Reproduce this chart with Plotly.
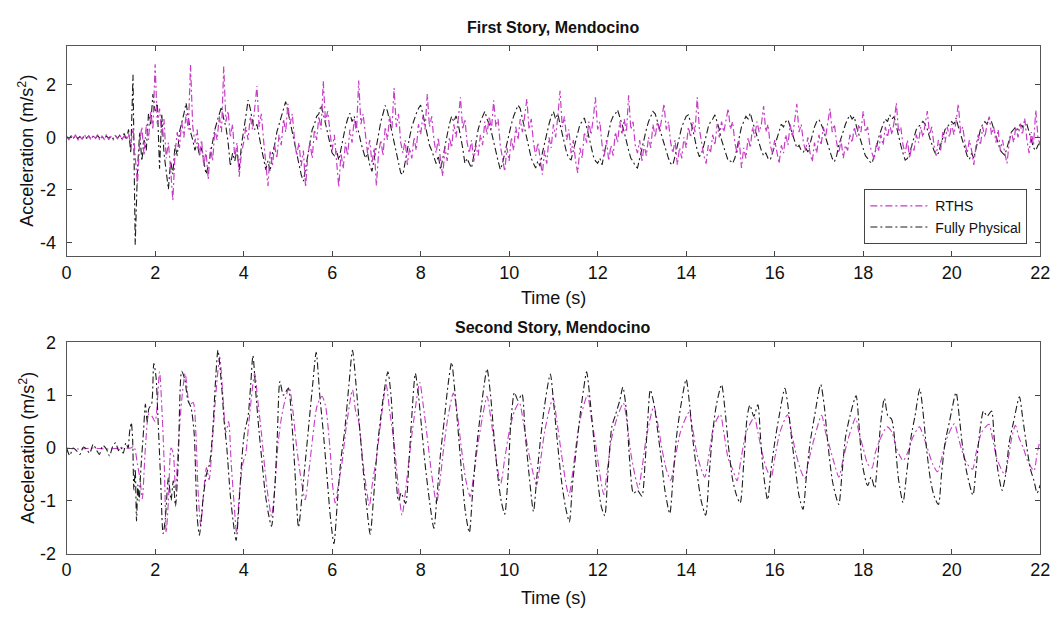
import numpy as np
import plotly.graph_objects as go

# ---------------- First story (0.05 s samples, one row per second) ----------------
rths_first = [
    [0.05,-0.10,0.08,-0.06,0.10,-0.12,0.04,-0.08,0.12,-0.05,0.06,-0.10,0.09,-0.04,0.10,-0.12,0.05,-0.07,0.11,-0.09],
    [0.03,-0.11,0.08,-0.05,0.10,-0.10,0.06,-0.08,0.15,-0.30,0.35,-0.60,-1.80,-0.20,0.40,-0.70,0.50,-0.10,1.00,0.30],
    [2.79,0.50,1.10,0.10,0.70,-0.80,-0.20,-1.20,-2.40,-0.60,0.20,-0.40,0.60,0.00,0.90,0.30,2.76,0.40,-0.20,0.30],
    [-0.70,-0.10,-1.10,-0.50,-1.60,-0.40,-0.90,0.30,-0.10,0.80,0.20,2.70,0.60,1.00,0.00,0.50,-0.80,-0.20,-1.50,-0.60],
    [-0.20,0.40,-0.10,0.80,0.30,1.10,1.96,0.40,0.90,-0.10,-0.90,-1.85,-0.50,-1.10,-0.30,-0.80,0.10,-0.30,0.70,0.20],
    [1.28,0.50,0.90,-0.10,-0.70,-0.20,-1.10,-0.50,-1.90,-0.70,-0.20,-0.80,0.30,-0.10,0.80,0.30,2.15,0.60,1.00,0.10],
    [-0.50,0.10,-1.00,-1.90,-0.60,-1.20,-0.20,-0.70,0.30,-0.20,0.70,0.20,2.17,0.50,0.90,0.00,-0.60,-0.10,-1.00,-0.40],
    [-1.85,-0.60,-0.10,-0.70,0.40,-0.10,0.80,0.30,1.88,0.40,0.90,-0.20,-0.60,-0.10,-1.05,-0.40,-0.80,0.00,-0.50,0.50],
    [0.10,0.80,0.30,1.65,0.40,0.80,-0.10,-0.60,0.00,-0.90,-1.48,-0.40,-0.90,0.00,-0.40,0.50,0.00,0.70,1.53,0.30],
    [0.70,-0.20,-0.60,-0.10,-0.93,-0.30,-0.70,0.10,-0.30,0.60,0.10,0.80,0.30,1.41,0.40,0.70,-0.30,-0.80,-1.30,-0.40],
    [-0.90,0.00,-0.50,0.40,-0.10,0.70,0.20,0.80,1.47,0.30,0.70,-0.20,-0.70,-0.20,-0.90,-1.42,-0.50,-1.00,0.00,-0.40],
    [0.50,0.00,0.80,1.78,0.40,0.80,-0.10,0.30,-0.60,-0.10,-0.90,-1.36,-0.40,-0.80,0.20,-0.20,0.60,0.10,0.70,1.53],
    [0.30,0.60,-0.30,-0.70,-0.10,-0.90,-0.30,-0.70,0.20,-0.20,0.60,0.10,0.70,0.20,1.60,0.30,0.60,-0.30,-0.60,-0.10],
    [-0.93,-0.30,-0.70,0.00,-0.40,0.50,0.00,0.60,0.20,0.70,1.28,0.30,0.60,-0.20,-0.60,-0.10,-1.05,-0.40,-0.80,0.00],
    [-0.40,0.40,0.00,0.60,0.20,1.53,0.30,-0.20,-0.70,-1.00,-0.30,-0.60,0.10,-0.30,0.50,0.00,0.60,0.20,0.70,1.10],
    [0.30,0.60,-0.20,-0.60,-0.10,-1.17,-0.40,-0.80,0.00,-0.40,0.40,0.00,0.60,0.20,0.50,1.19,0.20,0.50,-0.30,-0.60],
    [-0.10,-0.60,-1.00,-0.30,-0.60,0.10,-0.30,0.50,0.00,0.60,1.28,0.20,0.50,-0.20,-0.50,0.00,-0.60,-0.93,-0.20,-0.60],
    [0.10,-0.30,0.40,0.00,0.50,1.10,0.20,0.50,-0.20,-0.60,-0.10,-0.80,-0.30,-0.50,0.10,-0.20,0.40,0.00,0.50,0.20],
    [1.00,0.20,0.40,-0.30,-0.60,-0.85,-0.20,-0.50,0.10,-0.30,0.40,0.00,0.50,0.10,0.60,1.31,0.20,0.40,-0.30,-0.60],
    [-0.10,-0.80,-0.30,-0.50,0.10,-0.20,0.40,0.00,0.50,1.00,0.10,0.40,-0.30,-0.70,-0.10,-0.50,0.20,-0.20,0.40,0.00],
    [0.50,0.10,0.60,1.28,0.20,0.40,-0.20,-0.60,-0.10,-0.50,-1.05,-0.30,0.10,-0.30,0.40,0.00,0.50,0.79,0.10,0.40],
    [-0.20,0.30,-0.50,-0.10,-0.60,-0.99,-0.20,0.20,-0.20,0.40,0.00,0.50,0.10,0.73,-0.10,-0.60,0.20,-0.30,1.04,0.00],
    [-0.30],
]

fully_first = [
    [0.02,-0.06,0.05,-0.04,0.07,-0.05,0.03,-0.07,0.06,-0.03,0.05,-0.06,0.04,-0.05,0.07,-0.04,0.03,-0.06,0.05,-0.03],
    [0.04,-0.05,0.06,-0.04,0.08,-0.05,0.15,-0.10,0.30,-0.60,2.39,-4.10,-1.30,0.20,-0.90,-0.10,-0.50,0.90,0.50,1.65],
    [1.00,1.30,-1.20,0.90,-0.60,-1.30,-1.98,-0.90,-1.40,-0.30,-0.70,0.20,0.50,0.90,1.31,0.80,0.20,-0.10,-0.50,-0.20],
    [-0.70,-0.40,-1.00,-1.40,-1.10,-0.60,-0.20,0.30,0.60,0.90,1.17,0.70,0.40,-0.20,-1.10,-0.60,-0.90,-0.50,-1.24,-0.30],
    [0.20,0.80,1.42,1.10,0.60,0.30,0.50,0.00,-0.40,-0.80,-1.23,-0.90,-1.30,-0.60,-0.30,0.20,0.50,0.80,1.00,1.36],
    [1.00,0.60,0.20,-0.30,-0.70,-1.00,-1.42,-1.67,-1.20,-0.60,-0.20,0.30,0.50,0.80,0.90,1.23,0.90,0.50,0.10,-0.30],
    [-0.60,-0.70,-0.50,-0.87,-0.40,0.00,0.40,0.70,0.92,0.60,0.80,0.40,0.20,-0.20,-0.50,-0.80,-0.60,-1.05,-1.30,-0.80],
    [-0.30,0.20,0.60,0.90,1.22,1.00,0.60,0.20,-0.20,-0.60,-1.00,-1.36,-1.42,-0.90,-0.40,0.00,0.40,0.70,0.90,1.10],
    [1.23,0.90,0.50,0.10,-0.30,-0.50,-0.80,-1.00,-0.70,-1.23,-0.80,-0.30,0.10,0.50,0.80,0.60,0.82,0.50,0.10,-0.40],
    [-0.99,-0.80,-1.00,-1.17,-0.70,-0.20,0.30,0.60,0.80,0.99,0.70,0.50,0.20,-0.20,-0.60,-0.90,-1.23,-1.00,-0.60,-0.20],
    [0.20,0.50,0.80,1.00,1.23,1.10,0.70,0.30,0.00,-0.40,-0.80,-1.00,-1.17,-0.90,-1.10,-0.60,-0.20,0.20,0.50,0.80],
    [0.99,0.70,0.90,0.50,0.10,-0.30,-0.60,-0.80,-0.86,-0.50,-0.20,0.20,0.50,0.60,0.74,0.40,0.00,-0.40,-0.70,-0.90],
    [-0.99,-0.80,-1.05,-0.60,-0.20,0.30,0.60,0.80,0.90,1.05,0.80,0.50,0.20,-0.20,-0.50,-0.80,-0.90,-1.10,-1.17,-0.80],
    [-0.40,0.00,0.30,0.60,0.80,0.99,0.90,0.60,0.30,0.00,-0.30,-0.60,-0.80,-1.00,-1.05,-0.70,-0.30,0.10,0.40,0.60],
    [0.80,0.86,0.60,0.30,-0.10,-0.50,-0.74,-0.60,-0.30,0.10,0.40,0.60,0.70,0.86,0.60,0.30,-0.10,-0.40,-0.70,-0.90],
    [-0.90,-0.99,-0.80,-0.40,0.00,0.40,0.60,0.80,0.70,0.93,0.60,0.30,0.00,-0.30,-0.50,-0.70,-0.60,-0.80,-0.86,-0.60],
    [-0.30,0.00,0.30,0.50,0.40,0.60,0.68,0.40,0.10,-0.20,-0.40,-0.30,-0.50,-0.56,-0.40,-0.56,-0.20,0.10,0.40,0.60],
    [0.68,0.50,0.30,0.00,-0.30,-0.60,-0.80,-0.93,-0.70,-0.30,0.00,0.30,0.50,0.70,0.86,0.70,0.79,0.40,0.10,-0.20],
    [-0.50,-0.70,-0.80,-0.93,-0.99,-0.70,-0.40,0.00,0.30,0.50,0.70,0.60,0.86,0.70,0.79,0.40,0.10,-0.30,-0.60,-0.87],
    [-0.80,-0.60,-0.30,0.00,0.30,0.40,0.50,0.61,0.50,0.30,0.00,-0.30,-0.50,-0.68,-0.60,-0.30,0.00,0.30,0.40,0.50],
    [0.60,0.50,0.74,0.40,0.10,-0.20,-0.50,-0.70,-0.84,-0.60,-0.80,-0.40,0.00,0.30,0.50,0.60,0.50,0.74,0.60,0.30],
    [0.00,-0.30,-0.50,-0.60,-0.68,-0.40,-0.10,0.20,0.30,0.40,0.30,0.50,0.40,0.62,0.50,0.20,-0.10,-0.40,-0.50,-0.30],
    [-0.20],
]

# ---------------- Second story (time, acceleration) read at extremes ----------------
fully_second = [
    (0,0),(0.07,-0.14),(0.15,0.0),(0.22,-0.05),(0.3,-0.12),(0.38,0.02),(0.45,-0.02),(0.52,-0.1),
    (0.6,0.07),(0.67,-0.03),(0.74,-0.12),(0.82,0.05),(0.9,-0.02),(0.97,-0.15),(1.04,0.03),(1.11,0.1),
    (1.17,-0.05),(1.22,0.02),(1.28,-0.1),(1.34,0.1),(1.39,0.0),(1.42,0.28),(1.46,0.48),(1.49,0.2),
    (1.52,-0.8),(1.55,-0.4),(1.58,-1.38),(1.61,-0.7),(1.64,-1.0),(1.67,-0.5),(1.74,0.35),(1.78,0.83),
    (1.82,0.5),(1.86,0.75),(1.92,0.83),(1.97,1.6),(2.02,1.35),(2.06,0.65),(2.12,-0.5),(2.18,-1.62),
    (2.23,-1.35),(2.3,-0.56),(2.36,-0.99),(2.41,-0.62),(2.46,-1.1),(2.52,-0.3),(2.6,1.45),(2.67,1.3),
    (2.74,0.9),(2.81,0.77),(2.88,0.3),(2.95,-1.3),(3.0,-1.65),(3.08,-0.99),(3.16,-0.5),(3.23,-0.3),
    (3.3,0.3),(3.36,1.2),(3.42,1.85),(3.5,1.2),(3.56,0.5),(3.62,0.0),(3.7,-0.9),(3.78,-1.5),
    (3.83,-1.75),(3.9,-1.0),(3.96,-0.2),(4.02,0.3),(4.1,0.6),(4.16,1.2),(4.21,1.75),(4.28,1.0),
    (4.35,0.3),(4.42,-0.3),(4.48,-0.8),(4.55,-1.2),(4.63,-1.48),(4.7,-0.8),(4.76,0.2),(4.82,1.26),
    (4.9,1.0),(5.01,1.13),(5.08,0.6),(5.15,-0.3),(5.24,-1.5),(5.32,-0.9),(5.4,-0.2),(5.48,0.5),
    (5.56,1.2),(5.64,1.81),(5.72,1.0),(5.8,0.3),(5.88,-0.5),(5.96,-1.3),(6.04,-1.81),(6.12,-1.0),
    (6.2,-0.2),(6.28,0.3),(6.38,1.2),(6.46,1.85),(6.54,1.2),(6.62,0.4),(6.7,-0.4),(6.78,-1.1),
    (6.86,-1.63),(6.94,-0.9),(7.02,0.0),(7.1,0.6),(7.18,1.1),(7.26,1.44),(7.33,1.0),(7.42,-0.3),
    (7.5,-1.0),(7.56,-0.85),(7.66,-1.05),(7.74,-0.2),(7.8,0.6),(7.88,1.41),(7.95,1.0),(8.02,0.4),
    (8.1,-0.3),(8.2,-1.0),(8.3,-1.52),(8.37,-0.9),(8.45,-0.1),(8.53,0.5),(8.62,1.2),(8.7,1.62),
    (8.77,1.1),(8.85,0.3),(8.93,-0.5),(9.01,-1.2),(9.1,-1.6),(9.17,-0.9),(9.25,-0.1),(9.33,0.5),
    (9.42,1.1),(9.5,1.5),(9.58,1.0),(9.66,0.2),(9.74,-0.5),(9.82,-1.0),(9.9,-1.25),(9.97,-0.6),
    (10.04,0.5),(10.12,1.05),(10.2,0.9),(10.29,1.02),(10.36,0.3),(10.45,-0.5),(10.55,-1.2),(10.62,-0.6),
    (10.7,0.1),(10.8,0.8),(10.93,1.4),(11.0,0.9),(11.08,0.2),(11.18,-0.6),(11.27,-1.1),(11.36,-1.4),
    (11.43,-0.7),(11.52,0.0),(11.6,0.6),(11.68,1.1),(11.75,1.44),(11.83,0.9),(11.92,0.1),(12.0,-0.6),
    (12.08,-1.1),(12.16,-1.28),(12.23,-0.5),(12.32,0.4),(12.4,0.62),(12.5,0.9),(12.57,1.15),(12.65,0.7),
    (12.72,-0.2),(12.81,-0.86),(12.9,-0.8),(13.0,-0.91),(13.07,-0.3),(13.13,0.5),(13.19,1.1),(13.28,0.8),
    (13.36,0.3),(13.45,-0.3),(13.52,-0.8),(13.63,-1.24),(13.7,-0.6),(13.78,0.2),(13.88,0.8),(14.0,1.3),
    (14.08,0.8),(14.16,0.1),(14.25,-0.5),(14.34,-1.0),(14.44,-1.27),(14.52,-0.5),(14.6,0.3),(14.68,0.8),
    (14.8,1.2),(14.88,0.7),(14.96,0.0),(15.05,-0.6),(15.14,-0.9),(15.22,-1.04),(15.3,-0.3),(15.38,0.6),
    (15.44,0.81),(15.53,0.6),(15.62,0.82),(15.68,0.2),(15.75,-0.5),(15.84,-0.98),(15.92,-0.4),(16.0,0.1),
    (16.1,0.6),(16.23,1.13),(16.3,0.8),(16.38,0.2),(16.47,-0.4),(16.55,-0.9),(16.64,-1.16),(16.72,-0.5),
    (16.8,0.1),(16.9,0.6),(17.04,1.2),(17.12,0.8),(17.2,0.1),(17.3,-0.6),(17.38,-0.9),(17.45,-1.07),
    (17.52,-0.5),(17.6,0.2),(17.7,0.6),(17.84,0.99),(17.9,0.5),(17.98,-0.3),(18.1,-0.71),(18.18,-0.55),
    (18.26,-0.76),(18.32,-0.3),(18.4,0.5),(18.48,0.94),(18.56,0.6),(18.64,0.55),(18.72,0.1),(18.8,-0.6),
    (18.9,-1.03),(18.98,-0.5),(19.08,0.2),(19.17,0.6),(19.28,1.12),(19.35,0.7),(19.43,0.0),(19.52,-0.6),
    (19.6,-0.9),(19.7,-1.07),(19.77,-0.5),(19.85,0.1),(19.95,0.5),(20.1,1.05),(20.17,0.6),(20.25,0.0),
    (20.35,-0.5),(20.48,-0.89),(20.55,-0.4),(20.62,0.2),(20.72,0.7),(20.8,0.6),(20.9,0.7),(20.96,0.2),
    (21.04,-0.4),(21.14,-0.8),(21.22,-0.5),(21.3,0.1),(21.4,0.5),(21.53,0.97),(21.6,0.6),(21.7,0.0),
    (21.78,-0.4),(21.86,-0.62),(21.93,-0.85),(22.0,-0.7),
]

rths_second = [
    (0,0),(0.3,-0.02),(0.6,0.0),(0.9,-0.02),(1.2,0.0),(1.45,0.0),(1.52,0.03),(1.6,-0.3),(1.66,-0.6),
    (1.71,-0.96),(1.78,0.0),(1.86,0.65),(1.93,0.6),(2.0,0.5),(2.1,1.44),(2.15,0.8),(2.21,-0.4),
    (2.25,-1.6),(2.3,-1.0),(2.36,0.0),(2.41,-0.1),(2.46,-0.8),(2.52,0.0),(2.6,0.9),(2.68,1.41),
    (2.78,0.83),(2.86,0.86),(2.92,0.3),(2.97,-0.8),(3.03,-1.47),(3.1,-0.8),(3.16,-0.37),(3.22,-0.6),
    (3.3,0.2),(3.38,1.1),(3.46,1.72),(3.53,1.0),(3.6,0.3),(3.66,0.5),(3.72,-0.3),(3.78,-1.0),
    (3.84,-1.6),(3.9,-0.9),(3.98,-0.3),(4.05,-0.1),(4.12,0.5),(4.25,1.41),(4.32,0.9),(4.4,0.3),
    (4.48,-0.4),(4.55,-0.9),(4.63,-1.29),(4.7,-0.8),(4.78,0.1),(4.88,0.7),(5.03,1.15),(5.1,0.8),
    (5.2,0.0),(5.3,-0.6),(5.39,-0.98),(5.48,-0.4),(5.56,0.2),(5.66,0.8),(5.77,0.98),(5.85,0.8),
    (5.95,0.0),(6.01,-0.7),(6.07,-1.04),(6.14,-0.7),(6.22,-0.3),(6.32,0.4),(6.46,1.1),(6.53,0.7),
    (6.6,0.5),(6.7,-0.3),(6.78,-0.8),(6.84,-1.1),(6.92,-0.6),(7.0,-0.2),(7.1,0.5),(7.22,1.2),
    (7.3,0.7),(7.4,0.1),(7.48,-0.6),(7.58,-1.27),(7.66,-0.8),(7.74,-0.2),(7.84,0.5),(7.98,1.24),
    (8.06,0.8),(8.15,0.2),(8.25,-0.5),(8.36,-1.04),(8.44,-0.6),(8.52,0.0),(8.62,0.6),(8.74,1.04),
    (8.82,0.7),(8.92,0.0),(9.02,-0.6),(9.12,-0.92),(9.2,-0.5),(9.3,0.1),(9.4,0.6),(9.5,0.98),
    (9.58,0.6),(9.66,0.1),(9.74,-0.4),(9.81,-0.67),(9.9,-0.2),(10.0,0.3),(10.12,0.7),(10.23,0.86),
    (10.32,0.5),(10.42,0.0),(10.52,-0.4),(10.62,-0.7),(10.7,-0.3),(10.8,0.3),(10.9,0.7),(10.99,0.95),
    (11.08,0.5),(11.18,-0.1),(11.27,-0.6),(11.35,-0.91),(11.43,-0.5),(11.52,0.1),(11.62,0.6),(11.77,1.0),
    (11.85,0.6),(11.95,0.1),(12.05,-0.5),(12.14,-0.88),(12.22,-0.4),(12.32,0.2),(12.45,0.6),(12.58,0.85),
    (12.66,0.5),(12.75,-0.1),(12.84,-0.5),(12.92,-0.76),(13.0,-0.4),(13.1,0.2),(13.27,0.79),(13.35,0.5),
    (13.45,0.0),(13.55,-0.4),(13.65,-0.61),(13.75,-0.2),(13.87,0.3),(14.06,0.67),(14.14,0.4),(14.24,-0.1),
    (14.34,-0.4),(14.42,-0.55),(14.52,-0.1),(14.62,0.4),(14.77,0.64),(14.85,0.3),(14.95,-0.2),(15.05,-0.4),
    (15.15,-0.62),(15.24,-0.2),(15.36,0.3),(15.54,0.58),(15.62,0.3),(15.72,-0.1),(15.82,-0.4),(15.92,-0.56),
    (16.0,-0.2),(16.12,0.3),(16.29,0.63),(16.38,0.3),(16.48,-0.1),(16.58,-0.4),(16.68,-0.58),(16.78,-0.2),
    (16.9,0.2),(17.06,0.62),(17.15,0.3),(17.25,0.0),(17.35,-0.3),(17.45,-0.55),(17.55,-0.2),(17.67,0.2),
    (17.83,0.57),(17.9,0.3),(18.0,0.0),(18.1,-0.3),(18.2,-0.38),(18.27,-0.1),(18.4,0.2),(18.54,0.4),
    (18.65,0.3),(18.75,0.0),(18.83,-0.15),(18.9,-0.24),(19.0,-0.1),(19.12,0.2),(19.27,0.4),(19.35,0.25),
    (19.45,0.0),(19.57,-0.3),(19.68,-0.45),(19.77,-0.2),(19.9,0.2),(20.06,0.46),(20.15,0.2),(20.25,-0.1),
    (20.35,-0.3),(20.47,-0.4),(20.55,-0.1),(20.68,0.3),(20.84,0.45),(20.92,0.2),(21.02,-0.2),(21.2,-0.5),
    (21.28,-0.2),(21.36,0.2),(21.44,0.43),(21.52,0.2),(21.62,0.0),(21.72,-0.25),(21.86,-0.43),(21.93,-0.1),
    (22.0,0.15),
]

x_ticks = [0, 2, 4, 6, 8, 10, 12, 14, 16, 18, 20, 22]
y_ticks_first = [-4, -2, 0, 2]
y_ticks_second = [-2, -1, 0, 1, 2]
series_names = ["RTHS", "Fully Physical"]
titles = ["First Story, Mendocino", "Second Story, Mendocino"]

# ------------------------------------------------------------------------------------
for rows in (rths_first, fully_first):
    for r in rows[:-1]:
        assert len(r) == 20, len(r)

t_first = np.round(np.arange(0, 22.0001, 0.05), 2)
rths_first_vals = [v for r in rths_first for v in r]
fully_first_vals = [v for r in fully_first for v in r]

MAG = "#c63cc6"
BLK = "#1c1c1c"
DASH = "7px,3px,2px,3px"
FONT = "Liberation Sans, Arial, Helvetica, sans-serif"

fig = go.Figure()
fig.add_trace(go.Scatter(x=t_first, y=fully_first_vals, mode="lines", name=series_names[1],
                         line=dict(color=BLK, width=1.1, dash=DASH), xaxis="x", yaxis="y",
                         legendrank=2))
fig.add_trace(go.Scatter(x=t_first, y=rths_first_vals, mode="lines", name=series_names[0],
                         line=dict(color=MAG, width=1.2, dash=DASH), xaxis="x", yaxis="y",
                         legendrank=1))

ts_r, as_r = zip(*rths_second)
ts_f, as_f = zip(*fully_second)
fig.add_trace(go.Scatter(x=ts_r, y=as_r, mode="lines", showlegend=False,
                         line=dict(color=MAG, width=1.1, dash=DASH, shape="spline", smoothing=0.7),
                         xaxis="x2", yaxis="y2"))
fig.add_trace(go.Scatter(x=ts_f, y=as_f, mode="lines", showlegend=False,
                         line=dict(color=BLK, width=1.1, dash=DASH, shape="spline", smoothing=0.7),
                         xaxis="x2", yaxis="y2"))

W, H = 1063, 625
xdom = [62.5 / W, 1050 / W]
ydom1 = [(H - 254) / H, (H - 37.3) / H]
ydom2 = [(H - 561.7) / H, (H - 343.3) / H]

axis_common = dict(showline=True, linecolor="#555555", linewidth=1.2, mirror="ticks",
                   ticks="inside", ticklen=5, tickcolor="#444444", tickwidth=1,
                   showgrid=False, zeroline=False,
                   tickfont=dict(family=FONT, size=18, color="#111111"))

def labels(vals):
    return [str(v) for v in vals]

fig.update_layout(
    width=W, height=H,
    margin=dict(l=0, r=0, t=0, b=0),
    paper_bgcolor="white", plot_bgcolor="white",
    xaxis=dict(domain=xdom, anchor="y", range=[0, 22], tickvals=x_ticks, ticktext=labels(x_ticks),
               **axis_common),
    yaxis=dict(domain=ydom1, anchor="x", range=[-4.52, 3.48], tickvals=y_ticks_first,
               ticktext=labels(y_ticks_first), ticklabelstandoff=6, **axis_common),
    xaxis2=dict(domain=xdom, anchor="y2", range=[0, 22], tickvals=x_ticks, ticktext=labels(x_ticks),
                **axis_common),
    yaxis2=dict(domain=ydom2, anchor="x2", range=[-2, 2], tickvals=y_ticks_second,
                ticktext=labels(y_ticks_second), ticklabelstandoff=6, **axis_common),
    legend=dict(x=1037 / W, xanchor="right", y=(H - 242) / H, yanchor="bottom",
                bgcolor="white", bordercolor="#444444", borderwidth=1,
                font=dict(family=FONT, size=14, color="#111111"),
                tracegroupgap=0, itemwidth=60),
    showlegend=True,
)

ann = []
mid_x = (xdom[0] + xdom[1]) / 2
for txt, yc in ((titles[0], (H - 18) / H), (titles[1], (H - 328) / H)):
    ann.append(dict(text="<b>" + txt + "</b>", x=mid_x, y=yc, xref="paper", yref="paper",
                    showarrow=False, font=dict(family=FONT, size=16, color="#111111"),
                    xanchor="center", yanchor="middle"))
for yc in ((H - 298) / H, (H - 607) / H):
    ann.append(dict(text="Time (s)", x=mid_x, y=yc, xref="paper", yref="paper", showarrow=False,
                    font=dict(family=FONT, size=18, color="#111111"), xanchor="center", yanchor="middle"))
for dom in (ydom1, ydom2):
    ann.append(dict(text="Acceleration (m/s<sup>2</sup>)", x=22 / W, y=(dom[0] + dom[1]) / 2,
                    xref="paper", yref="paper", showarrow=False, textangle=-90,
                    font=dict(family=FONT, size=18, color="#111111"), xanchor="center", yanchor="middle"))
fig.update_layout(annotations=ann)

fig.write_html("out.html")
